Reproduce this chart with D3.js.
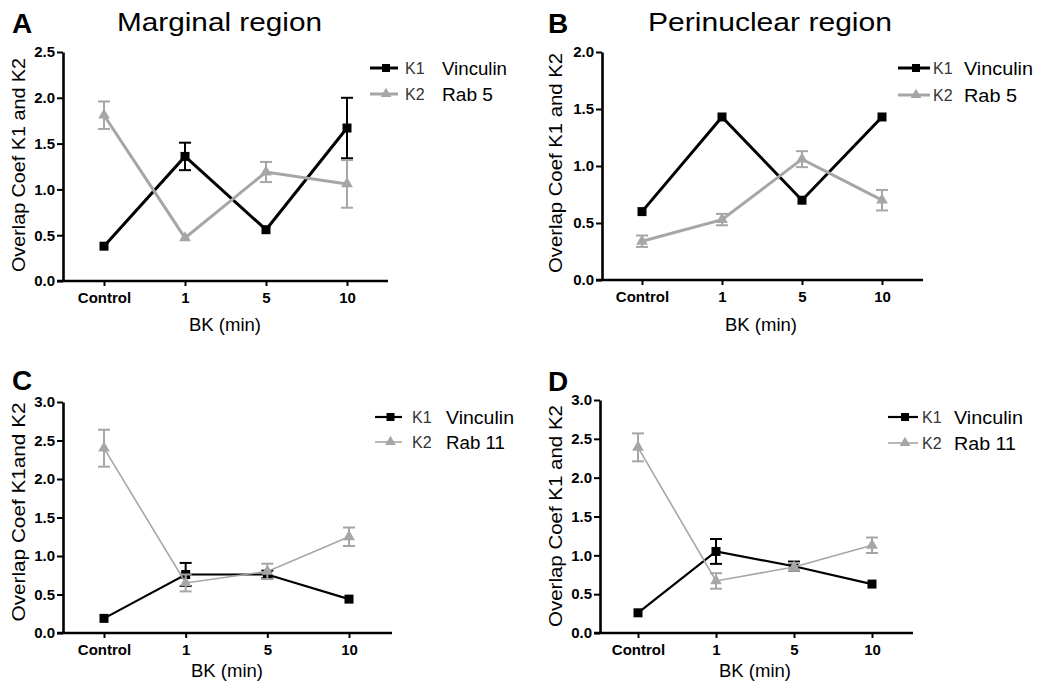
<!DOCTYPE html>
<html>
<head>
<meta charset="utf-8">
<script src="https://cdn.jsdelivr.net/npm/d3@7"></script>
<style>
body { margin: 0; background: #fff; }
text { font-family: "Liberation Sans", Arial, sans-serif; }
</style>
</head>
<body>
<svg id="chart" width="1038" height="688"></svg>
<script>
// categorias del eje x (tiempo de BK)
var categories = ["Control", "1", "5", "10"];

// A - region marginal (Vinculin / Rab 5)
var marginalK1 = [0.38, 1.36, 0.56, 1.67];
var marginalK1Err = [0, 0.15, 0, 0.33];
var marginalK2 = [1.81, 0.47, 1.19, 1.06];
var marginalK2Err = [0.15, 0, 0.11, 0.26];

// B - region perinuclear (Vinculin / Rab 5)
var perinuclearK1 = [0.60, 1.43, 0.70, 1.43];
var perinuclearK1Err = [0, 0, 0, 0];
var perinuclearK2 = [0.34, 0.53, 1.06, 0.70];
var perinuclearK2Err = [0.05, 0.05, 0.07, 0.09];

// C - Vinculin / Rab 11
var rab11MarginalK1 = [0.19, 0.76, 0.76, 0.44];
var rab11MarginalK1Err = [0, 0.15, 0.05, 0];
var rab11MarginalK2 = [2.40, 0.65, 0.80, 1.25];
var rab11MarginalK2Err = [0.24, 0.11, 0.10, 0.12];

// D - Vinculin / Rab 11
var rab11PerinuclearK1 = [0.26, 1.05, 0.86, 0.63];
var rab11PerinuclearK1Err = [0, 0.16, 0.06, 0];
var rab11PerinuclearK2 = [2.39, 0.67, 0.85, 1.13];
var rab11PerinuclearK2Err = [0.18, 0.10, 0.05, 0.10];

// ticks del eje y
var yTicksA = [0, 0.5, 1.0, 1.5, 2.0, 2.5];
var yTicksB = [0, 0.5, 1.0, 1.5, 2.0];
var yTicksCD = [0, 0.5, 1.0, 1.5, 2.0, 2.5, 3.0];

var seriesNames = ["K1", "K2"];
var legendRab5 = ["Vinculin", "Rab 5"];
var legendRab11 = ["Vinculin", "Rab 11"];
var xLabel = "BK (min)";

var _black = "#000";
var _gray = "#a6a6a6";

var panels = [
	{letter: "A", title: "Marginal region", yLabel: "Overlap Coef K1 and K2",
	 k1: marginalK1, k1Err: marginalK1Err, k2: marginalK2, k2Err: marginalK2Err,
	 yTicks: yTicksA, names: legendRab5,
	 ax: 63, top: 52, bottom: 281, x0: 104, x1: 347, right: 388, lw: 3, lwGray: 3,
	 letterPos: [12, 33], titlePos: [219.5, 31, 205],
	 yLabelPos: [25, 165, 214], xLabelPos: [225, 331],
	 legend: {x0: 370, x1: 398, y1: 68, y2: 94, kx: 405, nx: 442, nw: [65, 51]}},
	{letter: "B", title: "Perinuclear region", yLabel: "Overlap Coef K1 and K2",
	 k1: perinuclearK1, k1Err: perinuclearK1Err, k2: perinuclearK2, k2Err: perinuclearK2Err,
	 yTicks: yTicksB, names: legendRab5,
	 ax: 602, top: 52, bottom: 280, x0: 642, x1: 882, right: 923, lw: 3, lwGray: 3,
	 letterPos: [548, 33], titlePos: [770, 31, 244],
	 yLabelPos: [562, 163, 220], xLabelPos: [761, 331],
	 legend: {x0: 898, x1: 930, y1: 68, y2: 95, kx: 933, nx: 964, nw: [69, 53]}},
	{letter: "C", title: "", yLabel: "Overlap Coef K1and K2",
	 k1: rab11MarginalK1, k1Err: rab11MarginalK1Err, k2: rab11MarginalK2, k2Err: rab11MarginalK2Err,
	 yTicks: yTicksCD, names: legendRab11,
	 ax: 63, top: 402, bottom: 633, x0: 104, x1: 349, right: 392, lw: 2.2, lwGray: 1.6,
	 letterPos: [12, 390], titlePos: null,
	 yLabelPos: [25, 512, 219], xLabelPos: [227, 677],
	 legend: {x0: 375, x1: 402, y1: 417, y2: 442, kx: 412, nx: 446, nw: [68, 59]}},
	{letter: "D", title: "", yLabel: "Overlap Coef K1 and K2",
	 k1: rab11PerinuclearK1, k1Err: rab11PerinuclearK1Err, k2: rab11PerinuclearK2, k2Err: rab11PerinuclearK2Err,
	 yTicks: yTicksCD, names: legendRab11,
	 ax: 600, top: 400, bottom: 633, x0: 638, x1: 872, right: 913, lw: 2.2, lwGray: 1.6,
	 letterPos: [548, 391], titlePos: null,
	 yLabelPos: [562, 516, 222], xLabelPos: [755, 677],
	 legend: {x0: 888, x1: 918, y1: 417, y2: 443, kx: 922, nx: 954, nw: [69, 62]}}
];

var svg = d3.select("#chart");

panels.forEach(function(p){
	var g = svg.append("g");
	var yMax = p.yTicks[p.yTicks.length - 1];

	var x = d3.scalePoint().domain(categories).range([p.x0, p.x1]);
	var y = d3.scaleLinear().domain([0, yMax]).range([p.bottom, p.top]);

	// letra del panel
	g.append("text")
		.attr("x", p.letterPos[0]).attr("y", p.letterPos[1])
		.style("font-size", "28px").style("font-weight", "bold")
		.text(p.letter);

	if (p.titlePos) {
		g.append("text")
			.attr("x", p.titlePos[0]).attr("y", p.titlePos[1])
			.attr("text-anchor", "middle")
			.attr("textLength", p.titlePos[2]).attr("lengthAdjust", "spacingAndGlyphs")
			.style("font-size", "25px")
			.text(p.title);
	}

	// eje y
	var yAxis = g.append("g")
		.attr("transform", "translate(" + p.ax + ",0)")
		.call(d3.axisLeft(y).tickValues(p.yTicks).tickFormat(d3.format(".1f"))
			.tickSize(6).tickSizeOuter(0).tickPadding(2));
	yAxis.select(".domain").attr("stroke-width", 2.6);
	yAxis.selectAll(".tick line").attr("stroke-width", 2);
	yAxis.selectAll(".tick text")
		.attr("font-family", null).attr("font-size", null)
		.style("font-size", "15px").style("font-weight", "bold").attr("fill", "#000");

	// eje x
	var xAxis = g.append("g")
		.attr("transform", "translate(0," + p.bottom + ")")
		.call(d3.axisBottom(x).tickSize(5).tickPadding(6));
	xAxis.select(".domain").remove();
	xAxis.selectAll(".tick line").attr("stroke-width", 2);
	xAxis.selectAll(".tick text")
		.attr("font-family", null).attr("font-size", null)
		.style("font-size", "15px").style("font-weight", "bold").attr("fill", "#000");
	g.append("line")
		.attr("x1", p.ax - 6).attr("x2", p.right)
		.attr("y1", p.bottom).attr("y2", p.bottom)
		.attr("stroke", "#000").attr("stroke-width", 2.6);

	// titulos de ejes
	g.append("text")
		.attr("transform", "translate(" + p.yLabelPos[0] + "," + p.yLabelPos[1] + ") rotate(-90)")
		.attr("text-anchor", "middle")
		.attr("textLength", p.yLabelPos[2]).attr("lengthAdjust", "spacingAndGlyphs")
		.style("font-size", "18px")
		.text(p.yLabel);

	g.append("text")
		.attr("x", p.xLabelPos[0]).attr("y", p.xLabelPos[1])
		.attr("text-anchor", "middle")
		.style("font-size", "18.5px")
		.text(xLabel);

	// series: K1 negro con cuadrados, K2 gris con triangulos
	var series = [
		{vals: p.k1, errs: p.k1Err, color: _black, lw: p.lw, sym: d3.symbolSquare, size: 81},
		{vals: p.k2, errs: p.k2Err, color: _gray, lw: p.lwGray, sym: d3.symbolTriangle, size: 60}
	];

	series.forEach(function(s){
		var pts = categories.map(function(c, i){
			return {c: c, v: s.vals[i], e: s.errs[i]};
		});

		// barras de error (solo las que se ven)
		var eg = g.append("g").attr("stroke", s.color).attr("stroke-width", 2);
		pts.filter(function(d){ return d.e > 0; }).forEach(function(d){
			var cx = x(d.c);
			eg.append("line").attr("x1", cx).attr("x2", cx)
				.attr("y1", y(d.v - d.e)).attr("y2", y(d.v + d.e));
			[d.v - d.e, d.v + d.e].forEach(function(ev){
				eg.append("line").attr("x1", cx - 6).attr("x2", cx + 6)
					.attr("y1", y(ev)).attr("y2", y(ev));
			});
		});

		g.append("path")
			.datum(pts)
			.attr("fill", "none")
			.attr("stroke", s.color)
			.attr("stroke-width", s.lw)
			.attr("d", d3.line().x(function(d){ return x(d.c); }).y(function(d){ return y(d.v); }));

		g.selectAll(null)
			.data(pts)
			.enter()
			.append("path")
			.attr("transform", function(d){ return "translate(" + x(d.c) + "," + y(d.v) + ")"; })
			.attr("d", d3.symbol().type(s.sym).size(s.size))
			.attr("fill", s.color);
	});

	// leyenda
	var L = p.legend;
	var legendRows = [
		{y: L.y1, color: _black, lw: p.lw, sym: d3.symbolSquare, size: 64},
		{y: L.y2, color: _gray, lw: p.lwGray, sym: d3.symbolTriangle, size: 50}
	];
	legendRows.forEach(function(r, i){
		g.append("line")
			.attr("x1", L.x0).attr("x2", L.x1)
			.attr("y1", r.y).attr("y2", r.y)
			.attr("stroke", r.color).attr("stroke-width", r.lw);
		g.append("path")
			.attr("transform", "translate(" + ((L.x0 + L.x1) / 2 + 2) + "," + r.y + ")")
			.attr("d", d3.symbol().type(r.sym).size(r.size))
			.attr("fill", r.color);
		g.append("text")
			.attr("x", L.kx).attr("y", r.y + 6)
			.style("font-size", "16px").attr("fill", "#333")
			.text(seriesNames[i]);
		g.append("text")
			.attr("x", L.nx).attr("y", r.y + 6.5)
			.attr("textLength", L.nw[i]).attr("lengthAdjust", "spacingAndGlyphs")
			.style("font-size", "17.5px")
			.text(p.names[i]);
	});
});
</script>
</body>
</html>
